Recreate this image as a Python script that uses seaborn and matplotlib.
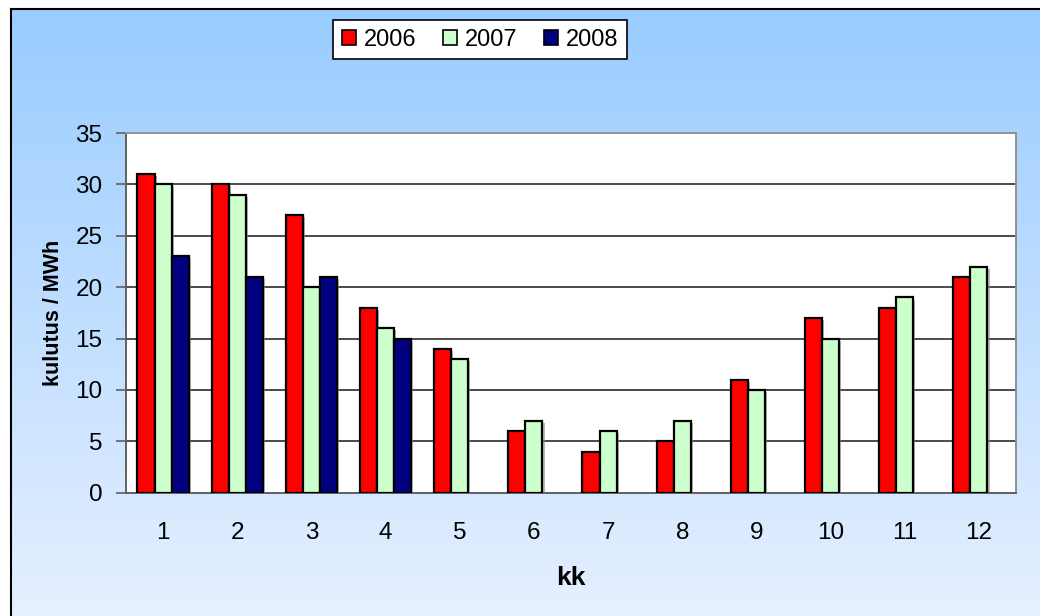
import numpy as np
import pandas as pd
import matplotlib
matplotlib.use("Agg")
import matplotlib.pyplot as plt
import matplotlib.patheffects as pe
from matplotlib.patches import Patch
from matplotlib.colors import LinearSegmentedColormap
import seaborn as sns

# Monthly consumption (MWh)
months = ["1", "2", "3", "4", "5", "6", "7", "8", "9", "10", "11", "12"]
years = ["2006", "2007", "2008"]
v2006 = [31, 30, 27, 18, 14, 6, 4, 5, 11, 17, 18, 21]
v2007 = [30, 29, 20, 16, 13, 7, 6, 7, 10, 15, 19, 22]
v2008 = [23, 21, 21, 15, np.nan, np.nan, np.nan, np.nan, np.nan, np.nan, np.nan, np.nan]
colors = ["#ff0000", "#ccffcc", "#000080"]
yticks = [0, 5, 10, 15, 20, 25, 30, 35]

df = pd.DataFrame({
    "kk": months * 3,
    "year": [y for y in years for _ in months],
    "val": v2006 + v2007 + v2008,
})

sns.set_theme(style="white")
plt.rcParams["font.family"] = ["Liberation Sans", "DejaVu Sans"]
plt.rcParams["text.color"] = "black"
plt.rcParams["axes.labelcolor"] = "black"
plt.rcParams["xtick.labelcolor"] = "black"
plt.rcParams["ytick.labelcolor"] = "black"

fig = plt.figure(figsize=(10.4, 6.16), dpi=100)
fig.patch.set_facecolor("white")

# Gradient panel behind the chart
bg = fig.add_axes([11 / 1040, 0, 1 - 11 / 1040, 1 - 9 / 616])
cmap = LinearSegmentedColormap.from_list("bgfade", ["#99ccff", "#e6f0ff"])
grad = np.linspace(0, 1, 256).reshape(-1, 1)
bg.imshow(grad, aspect="auto", cmap=cmap, extent=[0, 1, 0, 1], origin="upper")
bg.set_xlim(0, 1)
bg.set_ylim(0, 1)
bg.set_xticks([])
bg.set_yticks([])
for side in ["right", "bottom"]:
    bg.spines[side].set_visible(False)
for side in ["left", "top"]:
    bg.spines[side].set_color("black")
    bg.spines[side].set_linewidth(1.5)

ax = fig.add_axes([126 / 1040, 1 - 492.7 / 616, (1016 - 126) / 1040, (492.7 - 133) / 616])
ax.set_facecolor("white")

sns.barplot(data=df, x="kk", y="val", hue="year", order=months, hue_order=years,
            palette=colors, edgecolor="black", linewidth=1.6, width=0.69, gap=0,
            saturation=1, ax=ax, legend=False, errorbar=None, zorder=3)
for p in ax.patches:
    p.set_path_effects([pe.SimplePatchShadow(offset=(1.5, -1.5), shadow_rgbFace="#888888", alpha=0.6),
                        pe.Normal()])

ax.set_ylim(0, 35)
ax.set_xlim(-0.5, 11.5)
ax.set_yticks(yticks)
ax.set_yticklabels([str(t) for t in yticks], fontsize=17.5)
ax.set_xticks(range(len(months)))
ax.set_xticklabels(months, fontsize=17.5)
ax.set_xticks(np.arange(-0.5, 12, 1), minor=True)
ax.tick_params(axis="x", which="major", length=0, pad=21)
ax.tick_params(axis="x", which="minor", length=7, width=1.2, color="#606060", direction="out")
ax.tick_params(axis="y", length=7, width=1.2, color="#606060", direction="out", pad=10, left=True)

for y in yticks[1:-1]:
    ax.axhline(y, color="#1a1a1a", lw=1.1, zorder=1)

for side in ["left", "bottom"]:
    ax.spines[side].set_color("#606060")
    ax.spines[side].set_linewidth(1.4)
for side in ["top", "right"]:
    ax.spines[side].set_color("#909090")
    ax.spines[side].set_linewidth(1.4)

ax.set_xlabel("kk", fontsize=19, fontweight="bold", labelpad=16)
ax.set_ylabel("kulutus / MWh", fontsize=15.5, fontweight="bold", labelpad=8)

handles = [Patch(facecolor=c, edgecolor="black", linewidth=1.2, label=y) for c, y in zip(colors, years)]
leg = fig.legend(handles=handles, loc="center", bbox_to_anchor=(480 / 1040, 1 - 39.5 / 616),
                 ncol=3, fontsize=17, frameon=True, fancybox=False, framealpha=1,
                 handlelength=0.6, handleheight=0.6, handletextpad=0.35, columnspacing=1.1,
                 borderpad=0.35, borderaxespad=0)
leg.get_frame().set_edgecolor("black")
leg.get_frame().set_linewidth(1.2)

fig.savefig("out.png", dpi=100)
